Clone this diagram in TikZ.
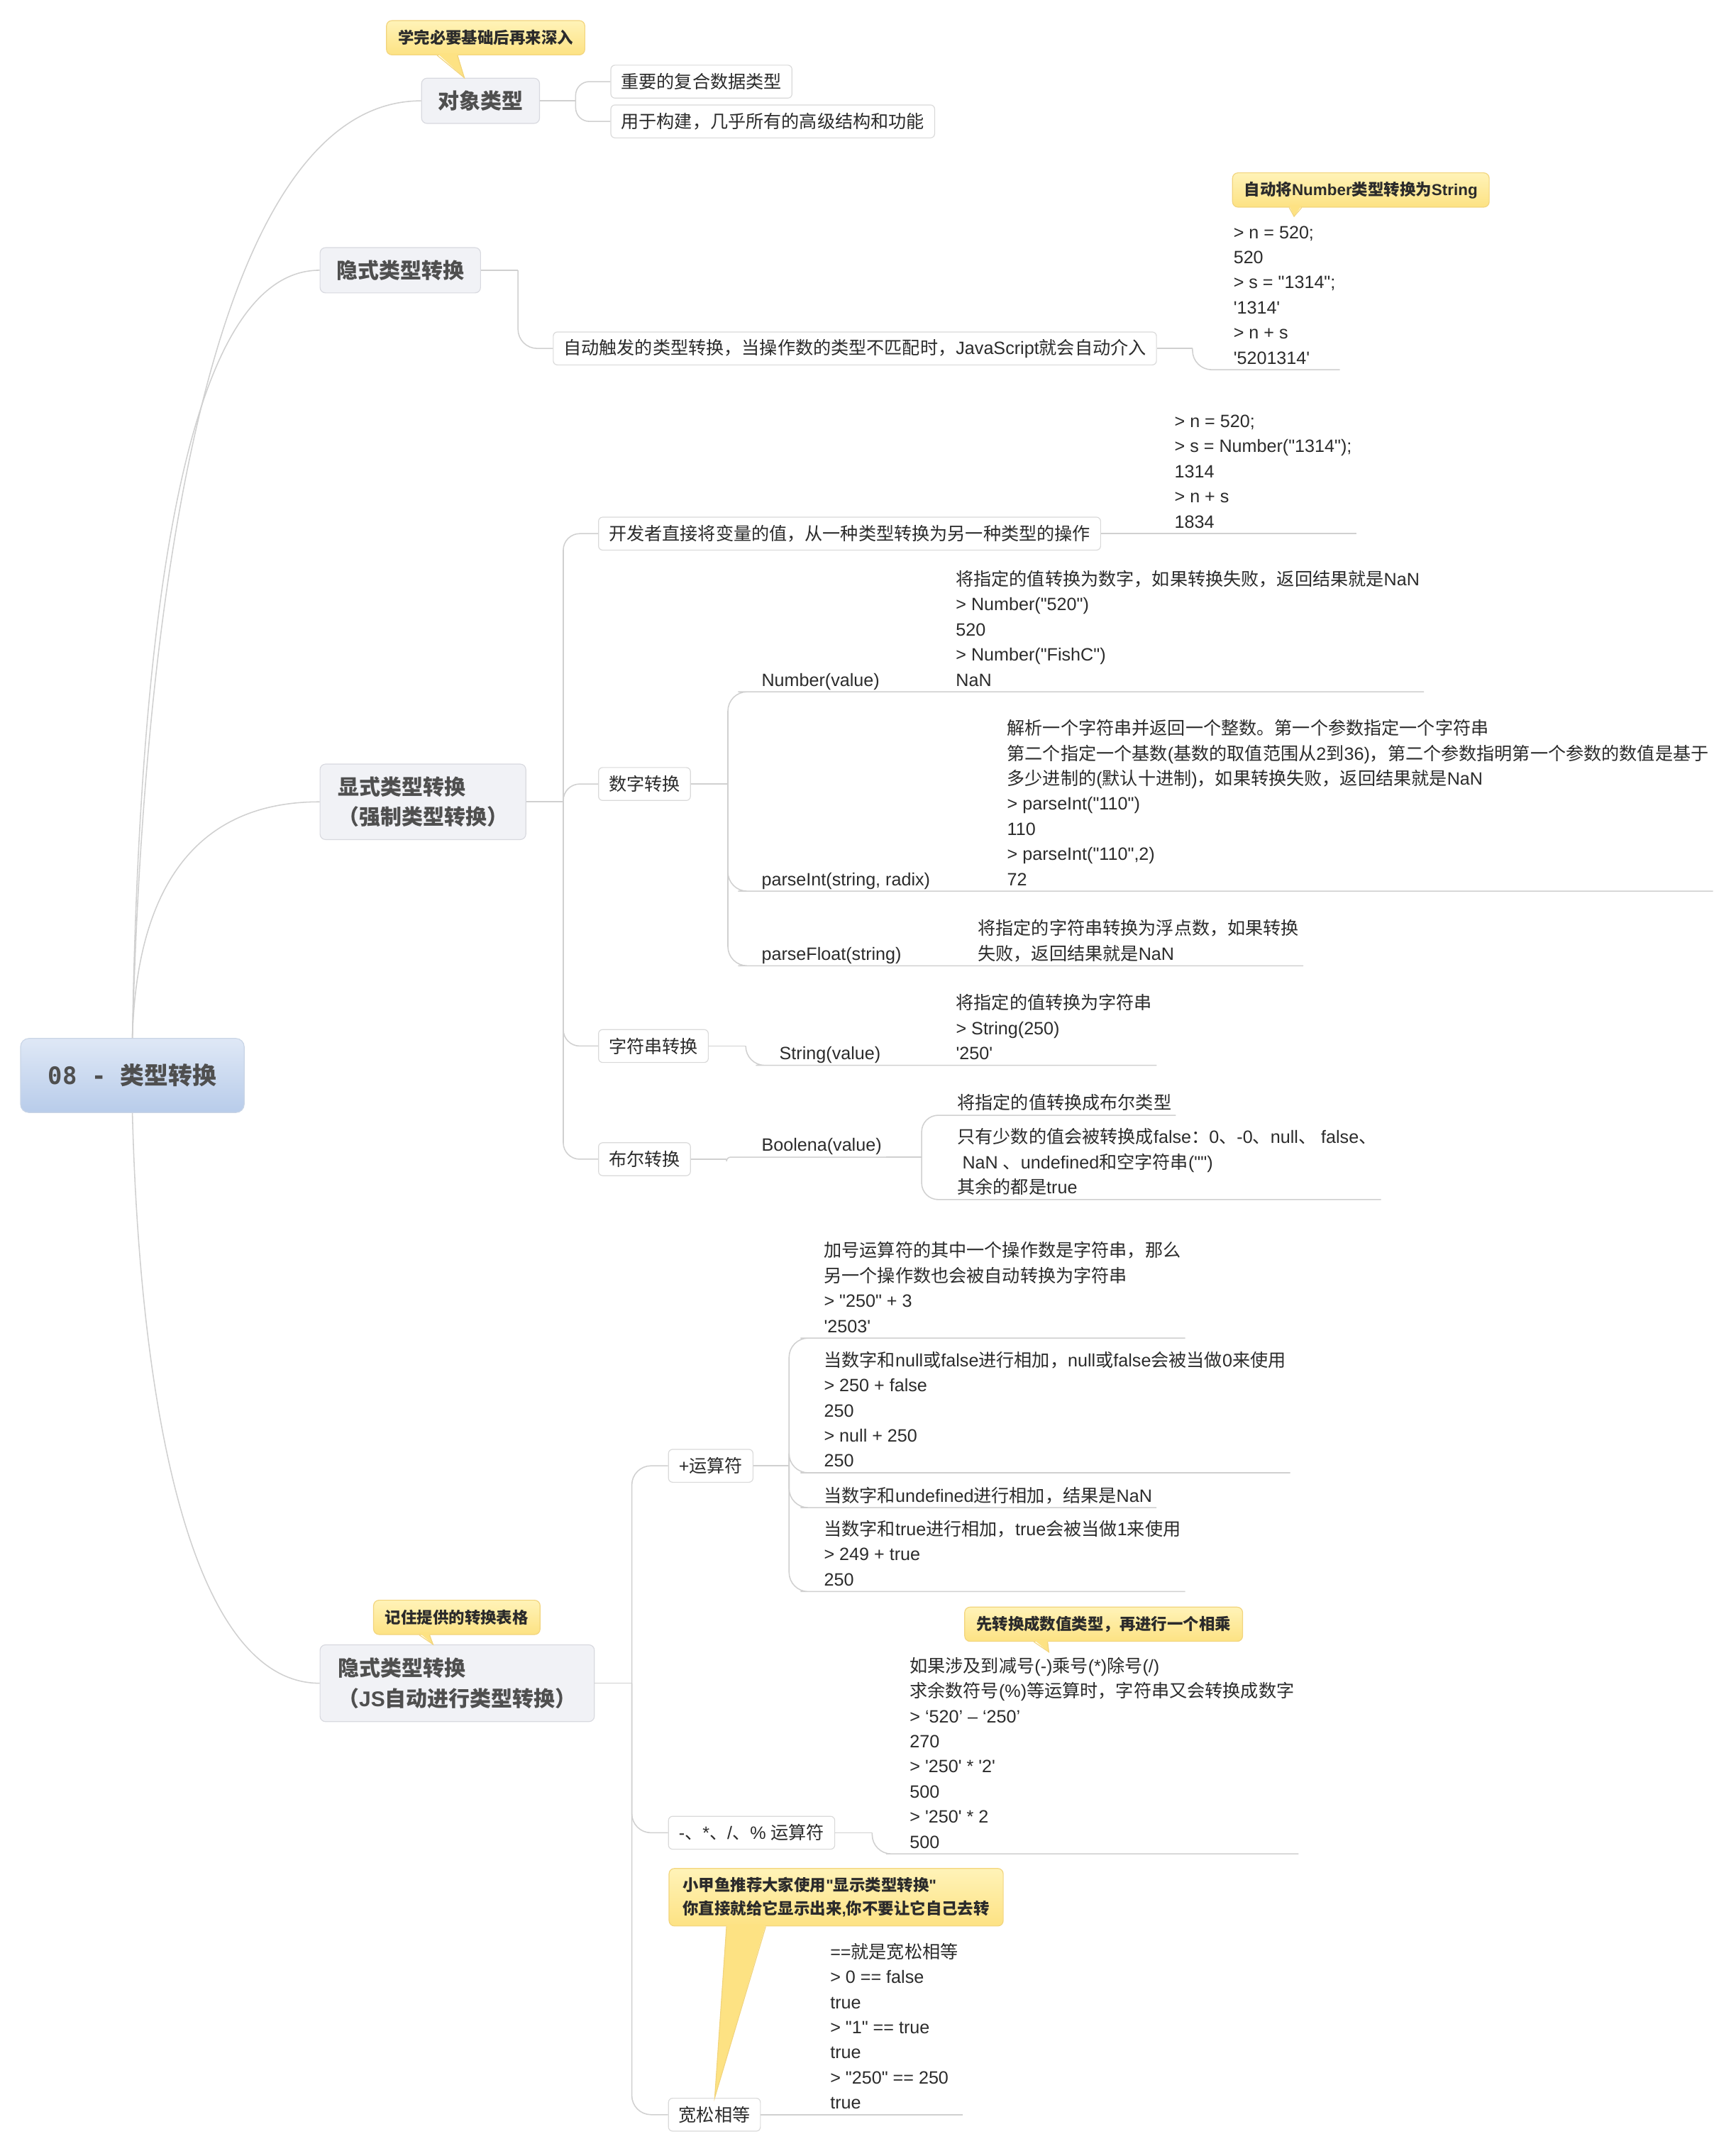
\documentclass[tikz,border=0pt]{standalone}
\usepackage{fontspec}
\usetikzlibrary{calc}
\newfontfamily\latinfam{Liberation Sans}[Ligatures=TeXOff]
\newfontfamily\cjkfam{Noto Sans CJK SC}
\newfontfamily\monofam{DejaVu Sans Mono}
\XeTeXinterchartokenstate=1
\newXeTeXintercharclass\CJKcls
\newcount\cjkc
\cjkc="3000 \loop \XeTeXcharclass\cjkc=\CJKcls \ifnum\cjkc<"303F \advance\cjkc by 1 \repeat
\cjkc="4E00 \loop \XeTeXcharclass\cjkc=\CJKcls \ifnum\cjkc<"9FFF \advance\cjkc by 1 \repeat
\cjkc="FF00 \loop \XeTeXcharclass\cjkc=\CJKcls \ifnum\cjkc<"FFEF \advance\cjkc by 1 \repeat
\XeTeXinterchartoks 0 \CJKcls = {\cjkfam}
\XeTeXinterchartoks 4095 \CJKcls = {\cjkfam}
\XeTeXinterchartoks \CJKcls 0 = {\latinfam}
\XeTeXinterchartoks \CJKcls 4095 = {\latinfam}
\definecolor{linec}{HTML}{D0D0D0}
\definecolor{txtc}{HTML}{2B2B2B}
\definecolor{toptxt}{HTML}{4F4F4F}
\definecolor{topfill}{HTML}{F1F2F6}
\definecolor{topdraw}{HTML}{D8D9DF}
\definecolor{subdraw}{HTML}{D9D9D9}
\definecolor{cfTop}{HTML}{FFF3B8}
\definecolor{cfBot}{HTML}{FDE283}
\definecolor{cdraw}{HTML}{F2D47C}
\definecolor{rTop}{HTML}{DFE8F6}
\definecolor{rMid}{HTML}{BDD0EB}
\definecolor{rBot}{HTML}{B8CCEA}
\definecolor{rdraw}{HTML}{C9D5E6}
\newcommand\dstr{\rule[-4pt]{0pt}{4pt}}
\tikzset{
 conn/.style={draw=linec, line width=0.8pt},
 rootbox/.style={draw=rdraw, line width=0.6pt, rounded corners=6pt, top color=rTop, middle color=rMid, bottom color=rBot, minimum width=163pt, minimum height=54pt, font=\latinfam\bfseries\fontsize{17.5}{21}\selectfont, text=toptxt},
 topicbox/.style={draw=topdraw, line width=0.6pt, fill=topfill, rounded corners=4pt, anchor=west, inner xsep=12pt, inner ysep=3pt, minimum height=33pt, align=left, font=\latinfam\bfseries\fontsize{15.5}{22}\selectfont, text=toptxt},
 subbox/.style={draw=subdraw, line width=0.6pt, fill=white, rounded corners=3pt, anchor=west, inner xsep=7.5pt, inner ysep=2pt, minimum height=24pt, font=\latinfam\fontsize{13}{18.3}\selectfont, text=txtc},
 tblock/.style={anchor=south west, inner xsep=3pt, inner ysep=0pt, align=left, font=\latinfam\fontsize{13}{18.3}\selectfont, text=txtc},
 callout/.style={draw=cdraw, line width=0.6pt, rounded corners=4pt, top color=cfTop, bottom color=cfBot, inner xsep=8.5pt, inner ysep=2pt, minimum height=25pt, align=left, font=\latinfam\bfseries\fontsize{11.6}{17}\selectfont, text=txtc},
 ptrfill/.style={fill=cfBot},
 ptrline/.style={draw=cdraw, line width=0.6pt},
}
\begin{document}
\begin{tikzpicture}[x=1pt,y=-1pt]
\useasboundingbox (0,0) rectangle (1265,1568);
% root
\node[rootbox] (root) at (96.5,784) {{\monofam 08 - }类型转换};
% main topics
\node[topicbox] (obj) at (307,73.5) {对象类型};
\node[topicbox] (imp) at (233,197) {隐式类型转换};
\node[topicbox, minimum height=55pt, inner xsep=13pt] (exp) at (233,584.5) {显式类型转换\\（强制类型转换）};
\node[topicbox, minimum height=56pt, inner xsep=13pt] (js) at (233,1227) {隐式类型转换\\（JS自动进行类型转换）};
% boxed subtopics
\node[subbox] (oc1) at (445,59.5) {重要的复合数据类型};
\node[subbox] (oc2) at (445,88.5) {用于构建，几乎所有的高级结构和功能};
\node[subbox] (auto) at (403,254) {自动触发的类型转换，当操作数的类型不匹配时，JavaScript就会自动介入};
\node[subbox] (dev) at (436,389) {开发者直接将变量的值，从一种类型转换为另一种类型的操作};
\node[subbox] (num) at (436,571.5) {数字转换};
\node[subbox] (str) at (436,762.5) {字符串转换};
\node[subbox] (bool) at (436,845) {布尔转换};
\node[subbox] (plus) at (487,1068.5) {+运算符};
\node[subbox] (minus) at (487,1336) {-、*、/、\% 运算符};
\node[subbox] (loose) at (487,1541.5) {宽松相等};
% text blocks
\node[tblock] (impb) at (896,269.5) {> n = 520;\\520\\> s = "1314";\\'1314'\\> n + s\\'5201314'\dstr};
\node[tblock] (devb) at (853,389) {> n = 520;\\> s = Number("1314");\\1314\\> n + s\\1834\dstr};
\node[tblock] (numv) at (552,504.3) {Number(value)\dstr};
\node[tblock] (numb) at (693.6,504.3) {将指定的值转换为数字，如果转换失败，返回结果就是NaN\\> Number("520")\\520\\> Number("FishC")\\NaN\dstr};
\node[tblock] (pint) at (552,649.6) {parseInt(string, radix)\dstr};
\node[tblock] (pintb) at (731,649.6) {解析一个字符串并返回一个整数。第一个参数指定一个字符串\\第二个指定一个基数(基数的取值范围从2到36)，第二个参数指明第一个参数的数值是基于\\多少进制的(默认十进制)，如果转换失败，返回结果就是NaN\\> parseInt("110")\\110\\> parseInt("110",2)\\72\dstr};
\node[tblock] (pfl) at (552,704) {parseFloat(string)\dstr};
\node[tblock] (pflb) at (709.7,704) {将指定的字符串转换为浮点数，如果转换\\失败，返回结果就是NaN\dstr};
\node[tblock] (strv) at (565,776.6) {String(value)\dstr};
\node[tblock] (strb) at (693.7,776.6) {将指定的值转换为字符串\\> String(250)\\'250'\dstr};
\node[tblock] (boolv) at (552,843.5) {Boolena(value)\dstr};
\node[tblock] (bc1) at (694.7,813) {将指定的值转换成布尔类型\dstr};
\node[tblock] (bc2) at (694.7,874.4) {只有少数的值会被转换成false：0、-0、null、 false、\\~NaN 、undefined和空字符串("")\\其余的都是true\dstr};
\node[tblock] (p1) at (597.5,975.4) {加号运算符的其中一个操作数是字符串，那么\\另一个操作数也会被自动转换为字符串\\> "250" + 3\\'2503'\dstr};
\node[tblock] (p2) at (597.5,1073.6) {当数字和null或false进行相加，null或false会被当做0来使用\\> 250 + false\\250\\> null + 250\\250\dstr};
\node[tblock] (p3) at (597.5,1099) {当数字和undefined进行相加，结果是NaN\dstr};
\node[tblock] (p4) at (597.5,1160.2) {当数字和true进行相加，true会被当做1来使用\\> 249 + true\\250\dstr};
\node[tblock] (mb) at (660,1351.4) {如果涉及到减号(-)乘号(*)除号(/)\\求余数符号(\%)等运算时，字符串又会转换成数字\\> ‘520’ – ‘250’\\270\\> '250' * '2'\\500\\> '250' * 2\\500\dstr};
\node[tblock] (lb) at (602,1541.5) {==就是宽松相等\\> 0 == false\\true\\> "1" == true\\true\\> "250" == 250\\true\dstr};
% root connectors
\draw[conn] (root.north) .. controls ($(root.north)+(10,-380)$) and ($(obj.west)+(-140,0)$) .. (obj.west);
\draw[conn] (root.north) .. controls ($(root.north)+(6,-350)$) and ($(imp.west)+(-90,0)$) .. (imp.west);
\draw[conn] (root.north) .. controls ($(root.north)+(3,-110)$) and ($(exp.west)+(-90,0)$) .. (exp.west);
\draw[conn] (root.south) .. controls ($(root.south)+(6,230)$) and ($(js.west)+(-90,0)$) .. (js.west);
% object type
\coordinate (fobj) at ($(obj.east)+(26,0)$);
\draw[conn] (obj.east) -- (fobj);
\draw[conn, rounded corners=10pt] (fobj) |- (oc1.west);
\draw[conn, rounded corners=10pt] (fobj) |- (oc2.west);
% implicit
\coordinate (fimp) at ($(imp.east)+(27,0)$);
\draw[conn] (imp.east) -- (fimp);
\draw[conn, rounded corners=14pt] (fimp) |- (auto.west);
\coordinate (fauto) at ($(auto.east)+(26,0)$);
\draw[conn] (auto.east) -- (fauto);
\draw[conn, rounded corners=14pt] (fauto) |- (impb.south west) -- (impb.south east);
% explicit
\coordinate (fexp) at ($(exp.east)+(27,0)$);
\draw[conn] (exp.east) -- (fexp);
\foreach \nn in {dev,num,str,bool} \draw[conn, rounded corners=12pt] (fexp) |- (\nn.west);
\draw[conn] (dev.east) -- (devb.south west) -- (devb.south east);
\coordinate (fnum) at ($(num.east)+(27,0)$);
\draw[conn] (num.east) -- (fnum);
\draw[conn, rounded corners=14pt] (fnum) |- (numv.south west) -- (numv.south east) -- (numb.south west) -- (numb.south east);
\draw[conn, rounded corners=14pt] (fnum) |- (pint.south west) -- (pint.south east) -- (pintb.south west) -- (pintb.south east);
\draw[conn, rounded corners=14pt] (fnum) |- (pfl.south west) -- (pfl.south east) -- (pflb.south west) -- (pflb.south east);
\coordinate (fstr) at ($(str.east)+(27,0)$);
\draw[conn] (str.east) -- (fstr);
\draw[conn, rounded corners=14pt] (fstr) |- (strv.south west) -- (strv.south east) -- (strb.south west) -- (strb.south east);
\coordinate (fbool) at ($(bool.east)+(26,0)$);
\draw[conn] (bool.east) -- (fbool);
\draw[conn, rounded corners=3pt] (fbool) |- (boolv.south west) -- (boolv.south east);
\coordinate (fbv) at ($(boolv.south east)+(26,0)$);
\draw[conn] (boolv.south east) -- (fbv);
\draw[conn, rounded corners=12pt] (fbv) |- (bc1.south west) -- (bc1.south east);
\draw[conn, rounded corners=12pt] (fbv) |- (bc2.south west) -- (bc2.south east);
% implicit JS
\coordinate (fjs) at ($(js.east)+(27,0)$);
\draw[conn] (js.east) -- (fjs);
\foreach \nn in {plus,minus,loose} \draw[conn, rounded corners=14pt] (fjs) |- (\nn.west);
\coordinate (fplus) at ($(plus.east)+(26,0)$);
\draw[conn] (plus.east) -- (fplus);
\foreach \nn in {p1,p2,p3,p4} \draw[conn, rounded corners=14pt] (fplus) |- (\nn.south west) -- (\nn.south east);
\coordinate (fminus) at ($(minus.east)+(27,0)$);
\draw[conn] (minus.east) -- (fminus);
\draw[conn, rounded corners=14pt] (fminus) |- (mb.south west) -- (mb.south east);
\draw[conn] (loose.east) -- (lb.south west) -- (lb.south east);
% callouts
\node[callout] (cobj) at (354,27.5) {学完必要基础后再来深入};
\node[callout] (cimp) at (992,138.5) {自动将Number类型转换为String};
\node[callout] (cjs) at (333,1179) {记住提供的转换表格};
\node[callout] (cmul) at (804.5,1184) {先转换成数值类型，再进行一个相乘};
\node[callout, inner xsep=10pt, minimum height=42pt] (clo) at (609.5,1383) {小甲鱼推荐大家使用"显示类型转换"\\你直接就给它显示出来,你不要让它自己去转};
% pointers
\fill[ptrfill] ($(cobj.south)+(-35.4,-1.5)$) -- ($(obj.north west)+(31.5,0)$) -- ($(cobj.south)+(-20.6,-1.5)$) -- cycle;
\draw[ptrline] ($(cobj.south)+(-35.4,0)$) -- ($(obj.north west)+(31.5,0)$) -- ($(cobj.south)+(-20.6,0)$);
\fill[ptrfill] ($(cimp.south)+(-52.3,-1.5)$) -- ($(cimp.south)+(-48.7,6.5)$) -- ($(cimp.south)+(-43.1,-1.5)$) -- cycle;
\draw[ptrline] ($(cimp.south)+(-52.3,0)$) -- ($(cimp.south)+(-48.7,6.5)$) -- ($(cimp.south)+(-43.1,0)$);
\fill[ptrfill] ($(cjs.south)+(-27.4,-1.5)$) -- ($(js.north west)+(82.7,0)$) -- ($(cjs.south)+(-20,-1.5)$) -- cycle;
\draw[ptrline] ($(cjs.south)+(-27.4,0)$) -- ($(js.north west)+(82.7,0)$) -- ($(cjs.south)+(-20,0)$);
\fill[ptrfill] ($(cmul.south)+(-50.9,-1.5)$) -- ($(cmul.south)+(-39.9,7.5)$) -- ($(cmul.south)+(-40.9,-1.5)$) -- cycle;
\draw[ptrline] ($(cmul.south)+(-50.9,0)$) -- ($(cmul.south)+(-39.9,7.5)$) -- ($(cmul.south)+(-40.9,0)$);
\fill[ptrfill] ($(clo.south)+(-79.9,-1.5)$) -- ($(loose.north west)+(34,0)$) -- ($(clo.south)+(-51.3,-1.5)$) -- cycle;
\draw[ptrline] ($(clo.south)+(-79.9,0)$) -- ($(loose.north west)+(34,0)$) -- ($(clo.south)+(-51.3,0)$);
\end{tikzpicture}
\end{document}
